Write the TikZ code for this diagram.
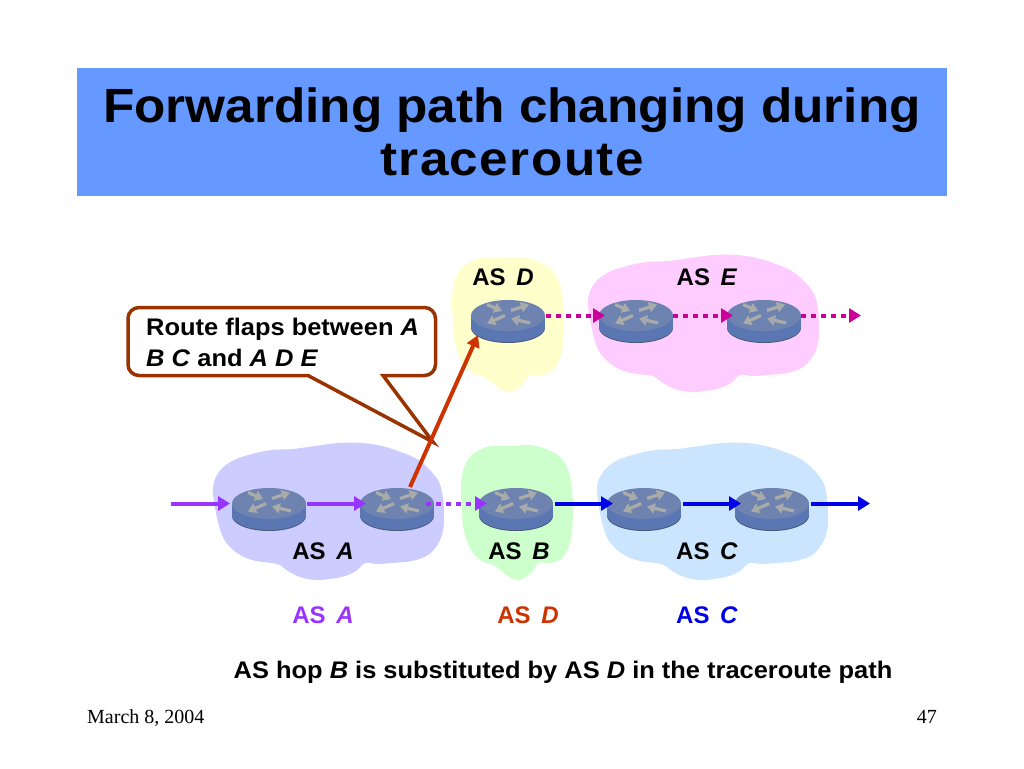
\documentclass[tikz,border=0pt]{standalone}
\usepackage{fontspec}
\setmainfont{Liberation Sans}
\newfontfamily\footfont{Liberation Serif}
\newfontfamily\widesans[FakeStretch=1.06]{Liberation Sans}
\newfontfamily\titlesans[FakeStretch=1.068]{Liberation Sans}
\newfontfamily\titlespaced[FakeStretch=1.068,LetterSpace=3]{Liberation Sans}
\usetikzlibrary{arrows.meta}
\definecolor{titleblue}{HTML}{6699FF}
\definecolor{cloudA}{HTML}{CCCCFF}
\definecolor{cloudB}{HTML}{CCFFCC}
\definecolor{cloudC}{HTML}{CCE5FF}
\definecolor{cloudD}{HTML}{FFFFCC}
\definecolor{cloudE}{HTML}{FFCCFF}
\definecolor{purp}{HTML}{9933FF}
\definecolor{magen}{HTML}{CC0099}
\definecolor{blu}{HTML}{0000E6}
\definecolor{oran}{HTML}{CC3300}
\definecolor{brn}{HTML}{993300}
\definecolor{rtop}{HTML}{6F83B1}
\definecolor{rside}{HTML}{5A77B4}
\definecolor{rdark}{HTML}{4A5A78}
\definecolor{rarrow}{HTML}{A9ABA8}
\tikzset{
  rspot/.style={inner sep=0pt,minimum width=74pt,minimum height=2pt,outer sep=0pt},
  router/.pic={
    \fill[rdark] (0,12.5) ellipse [x radius=37pt,y radius=15pt];
    \fill[rside] (-37,0) rectangle (37,11.5);
    \fill[rside] (0,11.5) ellipse [x radius=37pt,y radius=15pt];
    \fill[rtop] (0,0) ellipse [x radius=37pt,y radius=15.5pt];
    \foreach \a/\b/\c/\d in {-21/-11/-6/-4.5, 3/-5/21/-11, -3/0/-21/8, 22/7.5/3/3}{
      \draw[rarrow,line width=3.2pt,-{Triangle[length=8pt,width=10pt]}] (\a,\b) -- (\c,\d);
    }
  },
  flow/.style={line width=4pt,-{Triangle[length=12pt,width=14pt]},shorten >=-6pt},
  dots/.style={flow,dash pattern=on 5pt off 5pt},
  aslabel/.style={anchor=base,font=\fontsize{24}{24}\selectfont\bfseries,inner sep=0pt},
  hop/.style={anchor=base,font=\fontsize{24}{24}\selectfont\widesans\bfseries,inner sep=0pt},
  foot/.style={anchor=base,font=\fontsize{20}{20}\selectfont\footfont,inner sep=0pt},
  titletext/.style={anchor=base,inner sep=0pt,font=\fontsize{48}{48}\selectfont\titlesans\bfseries},
  widecloud/.pic={
    \fill[pic actions] plot[smooth cycle,tension=0.6] coordinates {(588,300)(594,284)(607,273)(627,266)(647,262)(668,261)(690,258)(714,255)(737,255)(757,258)(773,263)(790,270)(803,280)(814,294)(818,310)(819,328)(818,343)(813,356)(803,367)(787,373)(767,375)(752,376)(740,375)(731,383)(720,388)(705,391)(690,392)(675,389)(663,383)(655,377)(647,375)(631,373)(617,368)(605,359)(597,347)(591,325)};
  },
  narrowcloud/.pic={
    \fill[pic actions] plot[smooth cycle,tension=0.6] coordinates {(452,300)(454,283)(460,270)(470,262)(483,258)(502,258)(520,257)(537,261)(550,268)(558,279)(562,293)(564,318)(563,343)(560,358)(553,370)(542,375)(530,375)(521,386)(510,392)(500,389)(493,383)(484,377)(473,373)(464,365)(458,353)(454,338)(453,320)};
  }
}
\begin{document}
\begin{tikzpicture}[x=1pt,y=-1pt]
\useasboundingbox (0,0) rectangle (1024,768);
\fill[white] (0,0) rectangle (1024,768);
% title
\node[fill=titleblue,minimum width=870pt,minimum height=128pt,inner sep=0pt,anchor=north west] (titlebar) at (77,68) {};
\node[titletext] (title1) at (512,122) {Forwarding path changing during};
\node[titletext,font=\fontsize{48}{48}\selectfont\titlespaced\bfseries] (title2) at (512,175) {traceroute};
% clouds
\pic[cloudE] at (0,0) {widecloud};
\pic[cloudC] at (9,188) {widecloud};
\pic[cloudA] at (-375,188) {widecloud};
\pic[cloudD] at (0,0) {narrowcloud};
\pic[cloudB] at (9,188) {narrowcloud};
% routers
\foreach \n/\x/\y in {ra1/269/503.5,ra2/397/503.5,rb/516/503.5,rc1/644/503.5,rc2/772/503.5,rd/508/315.5,re1/636/315.5,re2/764/315.5}{
  \node[rspot] (\n) at (\x,\y) {};
  \pic at (\n) {router};
}
\coordinate (inA) at (171,503.5);
\coordinate (outC) at (870,503.5);
\coordinate (outE) at (861,315.5);
% flows
\draw[flow,purp,shorten >=2pt] (inA) -- (ra1.west);
\draw[flow,purp,shorten <=1pt] (ra1.east) -- (ra2.west);
\draw[dots,purp] ([xshift=-8pt]ra2.east) -- ([xshift=2pt]rb.west);
\draw[flow,blu,shorten <=2pt] (rb.east) -- (rc1.west);
\draw[flow,blu,shorten <=2pt] (rc1.east) -- (rc2.west);
\draw[flow,blu,shorten <=2pt,shorten >=0pt] (rc2.east) -- (outC);
\draw[dots,magen,shorten <=1pt] (rd.east) -- (re1.west);
\draw[dots,magen] (re1.east) -- (re2.west);
\draw[dots,magen,shorten >=0pt] (re2.east) -- (outE);
% callout
\coordinate (tip) at (433,442);
\filldraw[draw=brn,fill=white,line width=3.5pt,line join=miter]
  (tip) -- (383,375.5) [rounded corners=11pt] -- (435.5,375.5) -- (435.5,307.5) -- (128,307.5) -- (128,375.5) -- (160,375.5) [sharp corners] -- (308,375.5) -- cycle;
\coordinate (rdfoot) at (478,335);
\coordinate (ra2top) at (410,487);
\draw[line width=4pt,oran,-{Triangle[length=12pt,width=13pt]}] (ra2top) -- (rdfoot);
% labels
\node[hop,anchor=base west] (note1) at (146,335) {Route flaps between \textit{A}};
\node[hop,anchor=base west] (note2) at (146,366) {\textit{B C} and \textit{A D E}};
\node[aslabel] (lD) at (503,285) {AS \,\textit{D}};
\node[aslabel] (lE) at (707,285) {AS \,\textit{E}};
\node[aslabel] (lA) at (323,559) {AS \,\textit{A}};
\node[aslabel] (lB) at (519,559) {AS \,\textit{B}};
\node[aslabel] (lC) at (707,559) {AS \,\textit{C}};
\node[aslabel,text=purp] (pA) at (323,623) {AS \,\textit{A}};
\node[aslabel,text=oran] (pD) at (528,623) {AS \,\textit{D}};
\node[aslabel,text=blu] (pC) at (707,623) {AS \,\textit{C}};
\node[hop] (hop) at (563,678) {AS hop \textit{B} is substituted by AS \textit{D} in the traceroute path};
\node[foot,anchor=base west] (date) at (87,723) {March 8, 2004};
\node[foot,anchor=base east] (page) at (937,723) {47};
\end{tikzpicture}
\end{document}
